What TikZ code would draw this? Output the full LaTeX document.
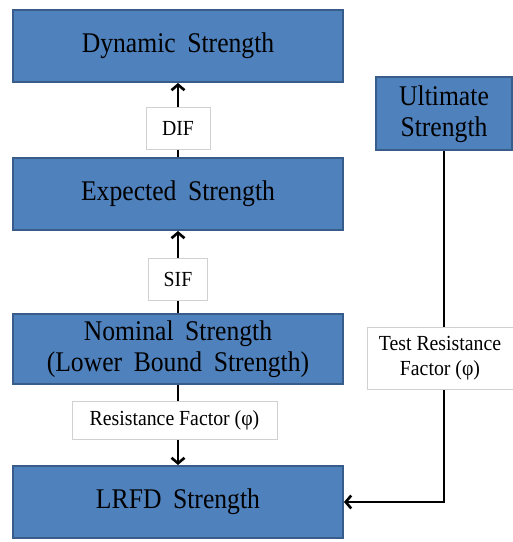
\documentclass[tikz,border=0pt]{standalone}
\usepackage{fontspec}
\setmainfont{Liberation Serif}
\newfontfamily\boxfont[WordSpace=1.8, FakeStretch=0.9]{Liberation Serif}
\newfontfamily\labelfont[FakeStretch=0.92]{Liberation Serif}
\usepackage{xcolor}
\usetikzlibrary{arrows.meta,positioning}

\definecolor{boxblue}{HTML}{4F81BD}
\definecolor{boxedge}{HTML}{385D8A}

\begin{document}
\begin{tikzpicture}[
  x=1pt, y=1pt,
  strength/.style={draw=boxedge, line width=2pt, fill=boxblue, align=center,
    minimum width=330pt, minimum height=72pt, inner sep=2pt,
    font=\boxfont\fontsize{28.5}{31}\selectfont},
  factor/.style={draw=black!18, line width=0.8pt, fill=white, align=center,
    inner sep=5pt, font=\labelfont\fontsize{21.5}{25}\selectfont},
  arrow/.style={-{Straight Barb[length=5.5pt,width=13pt]}, line width=2.6pt}
]
\useasboundingbox (0,0) rectangle (513,542);

\node[strength] (dynamic) at (178,496) {Dynamic Strength};
\node[strength, below=74pt of dynamic] (expected) {Expected Strength};
\node[strength, below=82pt of expected, minimum height=70pt] (nominal) {Nominal Strength\\(Lower Bound Strength)};
\node[strength, below=80pt of nominal] (lrfd) {LRFD Strength};
\node[strength, minimum width=136pt, minimum height=73pt] (ultimate) at (444,428) {Ultimate\\Strength};

\draw[arrow] (expected) -- node[factor, pos=0.39, minimum width=64pt, minimum height=42pt] (dif) {DIF} (dynamic);
\draw[arrow] (nominal) -- node[factor, pos=0.41, minimum width=59pt, minimum height=42pt] (sif) {SIF} (expected);
\draw[arrow] (nominal) -- node[factor, pos=0.44, xshift=-3.5pt, minimum width=205pt, minimum height=38pt] (phi) {Resistance Factor (φ)} (lrfd);
\draw[arrow] (ultimate) |- node[factor, pos=0.295, xshift=-4pt, minimum width=146pt, minimum height=62pt] (testphi) {Test Resistance\\Factor (φ)} (lrfd);
\end{tikzpicture}
\end{document}
